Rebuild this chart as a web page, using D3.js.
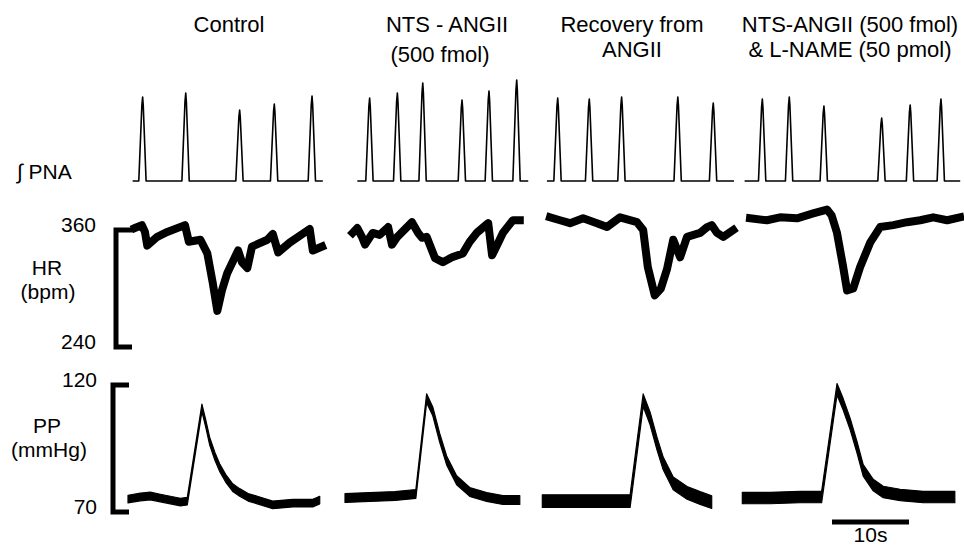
<!DOCTYPE html>
<html>
<head>
<meta charset="utf-8">
<script src="https://cdn.jsdelivr.net/npm/d3@7"></script>
<style>
  body { margin: 0; background: #fff; }
  svg text { font-family: "Liberation Sans", Arial, sans-serif; font-size: 22px; fill: #000; }
  svg text.side { font-size: 21px; }
</style>
</head>
<body>
<svg width="964" height="546"></svg>
<script>
// ---- data (time in s from the start of each panel) ----
const conditions = ["Control", "NTS-ANGII", "Recovery", "NTS-ANGII + L-NAME"];
const titleLines = [
  ["Control"],
  ["NTS - ANGII", "(500 fmol)"],
  ["Recovery from", "ANGII"],
  ["NTS-ANGII (500 fmol)", "& L-NAME (50 pmol)"]
];

// integrated PNA: recording span, burst times and burst heights (a.u.)
const pnaSpan = [[0.6, 25.3], [1.6, 23.8], [0.9, 25.2], [0.6, 28.6]];
const pnaBurstTimes = [
  [1.9, 7.5, 14.5, 19.0, 23.9],
  [3.2, 6.8, 10.1, 15.2, 18.7, 22.3],
  [2.3, 6.4, 10.6, 17.9, 22.5],
  [2.9, 6.4, 10.9, 18.4, 22.1, 26.1]
];
const pnaBurstHeights = [
  [84, 88, 71, 77, 85],
  [83, 88, 98, 81, 90, 101],
  [83, 82, 84, 84, 78],
  [82, 84, 75, 63, 76, 82]
];

// heart rate (bpm)
const hrTimes = [
  [0.9, 1.8, 2.2, 2.5, 3.8, 5.1, 7.4, 7.9, 9.4, 10.3, 11.0, 11.6, 12.2, 12.9, 14.3, 14.8, 15.5, 16.1, 18.1, 18.8, 19.5, 21.0, 23.6, 24.0, 25.2],
  [1.0, 1.6, 2.2, 2.6, 3.6, 4.5, 5.6, 6.1, 6.8, 8.7, 9.5, 10.0, 10.6, 11.7, 12.7, 13.9, 15.3, 16.2, 17.1, 18.6, 19.1, 19.9, 20.5, 21.8, 22.7],
  [1.3, 2.6, 3.9, 5.6, 7.4, 8.7, 10.4, 12.6, 13.4, 14.0, 14.9, 15.7, 16.5, 17.3, 18.2, 19.1, 20.8, 21.7, 22.3, 23.0, 23.8, 25.1],
  [1.3, 3.5, 5.2, 7.4, 9.5, 11.3, 11.9, 12.6, 13.4, 13.9, 14.7, 15.6, 16.9, 18.2, 19.9, 21.7, 23.4, 25.1, 26.9, 28.6]
];
const hrValues = [
  [362, 365, 358, 344, 353, 358, 365, 348, 350, 336, 306, 277, 298, 316, 339, 327, 321, 343, 350, 356, 337, 347, 361, 339, 343],
  [357, 362, 353, 345, 357, 355, 363, 345, 353, 368, 357, 352, 353, 331, 327, 332, 336, 348, 357, 367, 334, 347, 357, 370, 370],
  [373, 370, 367, 372, 367, 363, 373, 368, 360, 322, 293, 300, 320, 350, 332, 353, 357, 363, 365, 357, 353, 360],
  [372, 370, 373, 372, 377, 381, 375, 357, 322, 298, 300, 322, 347, 363, 365, 368, 370, 373, 370, 373]
];

// pulsatile pressure (mmHg): mean trace and pulse spread
const ppTimes = [
  [0, 1.6, 2.9, 4.2, 5.5, 6.8, 7.7, 9.6, 10.1, 10.6, 11.3, 11.9, 12.7, 13.6, 14.5, 15.6, 16.8, 18.8, 21.4, 24.0, 24.9],
  [0, 3.2, 6.5, 9.2, 10.6, 11.4, 12.3, 13.2, 14.5, 16.2, 18.4, 20.5, 22.7],
  [0.3, 3.9, 7.8, 11.7, 13.4, 14.3, 15.2, 16.0, 17.3, 19.1, 20.8, 22.3],
  [0.3, 3.9, 7.8, 10.6, 12.6, 13.4, 14.3, 15.2, 16.0, 17.3, 18.6, 20.8, 23.8, 27.9]
];
const ppValues = [
  [75.1, 75.9, 76.3, 75.5, 74.7, 73.9, 74.3, 111.0, 104.8, 98.0, 91.8, 87.5, 83.2, 79.6, 77.7, 75.8, 74.7, 72.8, 73.5, 73.5, 74.7],
  [75.5, 75.9, 76.3, 77.1, 114.8, 109.6, 99.2, 90.3, 82.5, 77.9, 75.9, 74.7, 74.7],
  [74.3, 74.3, 74.3, 74.3, 114.0, 106.8, 96.9, 89.1, 81.3, 77.5, 75.5, 73.9],
  [75.5, 75.5, 75.9, 75.9, 118.3, 112.4, 104.7, 95.4, 86.4, 80.6, 77.9, 76.7, 75.9, 75.9]
];
const ppSpread = [3.0, 3.5, 5.0, 4.5];

const hrTicks = [360, 240];
const ppTicks = [120, 70];
const timeBarSeconds = 10;

// ---- layout ----
const svg = d3.select("svg");
const panelX = [128, 345, 540, 740];
const titleX = [229, 447, 632, 850];

const t = d3.scaleLinear().domain([0, 10]).range([0, 77]);
const yPna = d3.scaleLinear().domain([0, 100]).range([181, 81]);
const yHr = d3.scaleLinear().domain([240, 360]).range([347, 230]);
const yPp = d3.scaleLinear().domain([70, 120]).range([512, 385]);

// titles
titleLines.forEach((lines, i) => {
  lines.forEach((line, j) => {
    svg.append("text")
      .attr("x", titleX[i] + (i === 1 && j === 1 ? -7 : 0))
      .attr("y", j === 0 ? 32 : (i === 1 ? 62 : 57))
      .attr("text-anchor", "middle")
      .text(line);
  });
});

// left labels
svg.append("text").attr("class", "side").attr("x", 17).attr("y", 179).text("\u222B PNA");
svg.append("text").attr("class", "side").attr("x", 47).attr("y", 275).attr("text-anchor", "middle").text("HR");
svg.append("text").attr("class", "side").attr("x", 48).attr("y", 299).attr("text-anchor", "middle").text("(bpm)");
svg.append("text").attr("class", "side").attr("x", 47).attr("y", 433).attr("text-anchor", "middle").text("PP");
svg.append("text").attr("class", "side").attr("x", 49).attr("y", 457).attr("text-anchor", "middle").text("(mmHg)");

// scale brackets
function bracket(x, y, ticks, labelX, dy) {
  svg.append("path")
    .attr("d", `M${x + 16},${y(ticks[0])}H${x}V${y(ticks[1])}H${x + 16}`)
    .attr("fill", "none")
    .attr("stroke", "#000")
    .attr("stroke-width", 5);
  ticks.forEach(v => {
    svg.append("text")
      .attr("class", "side")
      .attr("x", labelX)
      .attr("y", y(v) + dy)
      .attr("text-anchor", "end")
      .text(v);
  });
}
bracket(116, yHr, hrTicks, 96, 2);
bracket(113, yPp, ppTicks, 97, 2);

const hrLine = d3.line().x(d => t(d[0])).y(d => yHr(d[1]));
const pnaLine = d3.line().x(d => t(d[0])).y(d => yPna(d[1]));
const ppArea = d3.area()
  .x(d => t(d[0]))
  .y0(d => yPp(d[1] - d[2] / 2))
  .y1(d => yPp(d[1] + d[2] / 2));

conditions.forEach((c, i) => {
  const g = svg.append("g").attr("transform", `translate(${panelX[i]},0)`);

  // PNA bursts on a flat baseline
  const pts = [[pnaSpan[i][0], 0]];
  pnaBurstTimes[i].forEach((bt, k) => {
    const h = pnaBurstHeights[i][k];
    pts.push([bt - 0.5, 0], [bt - 0.1, h * 0.9], [bt, h], [bt + 0.08, h * 0.9], [bt + 0.45, 0]);
  });
  pts.push([pnaSpan[i][1], 0]);
  g.append("path")
    .attr("d", pnaLine(pts))
    .attr("fill", "none")
    .attr("stroke", "#000")
    .attr("stroke-width", 1.6)
    .attr("stroke-linejoin", "round");

  // HR
  g.append("path")
    .attr("d", hrLine(hrTimes[i].map((tt, k) => [tt, hrValues[i][k]])))
    .attr("fill", "none")
    .attr("stroke", "#000")
    .attr("stroke-width", 8)
    .attr("stroke-linejoin", "round")
    .attr("stroke-linecap", "square");

  // PP band (pulse spread drawn as band thickness)
  g.append("path")
    .attr("d", ppArea(ppTimes[i].map((tt, k) => [tt, ppValues[i][k], ppSpread[i]])))
    .attr("fill", "#000")
    .attr("stroke", "#000")
    .attr("stroke-width", 1.2)
    .attr("stroke-linejoin", "round");
});

// time bar
const barX = 832;
svg.append("line")
  .attr("x1", barX).attr("x2", barX + t(timeBarSeconds))
  .attr("y1", 522).attr("y2", 522)
  .attr("stroke", "#000")
  .attr("stroke-width", 5);
svg.append("text")
  .attr("x", barX + t(timeBarSeconds) / 2)
  .attr("y", 542)
  .attr("text-anchor", "middle")
  .style("font-size", "21px")
  .text(timeBarSeconds + "s");
</script>
</body>
</html>
